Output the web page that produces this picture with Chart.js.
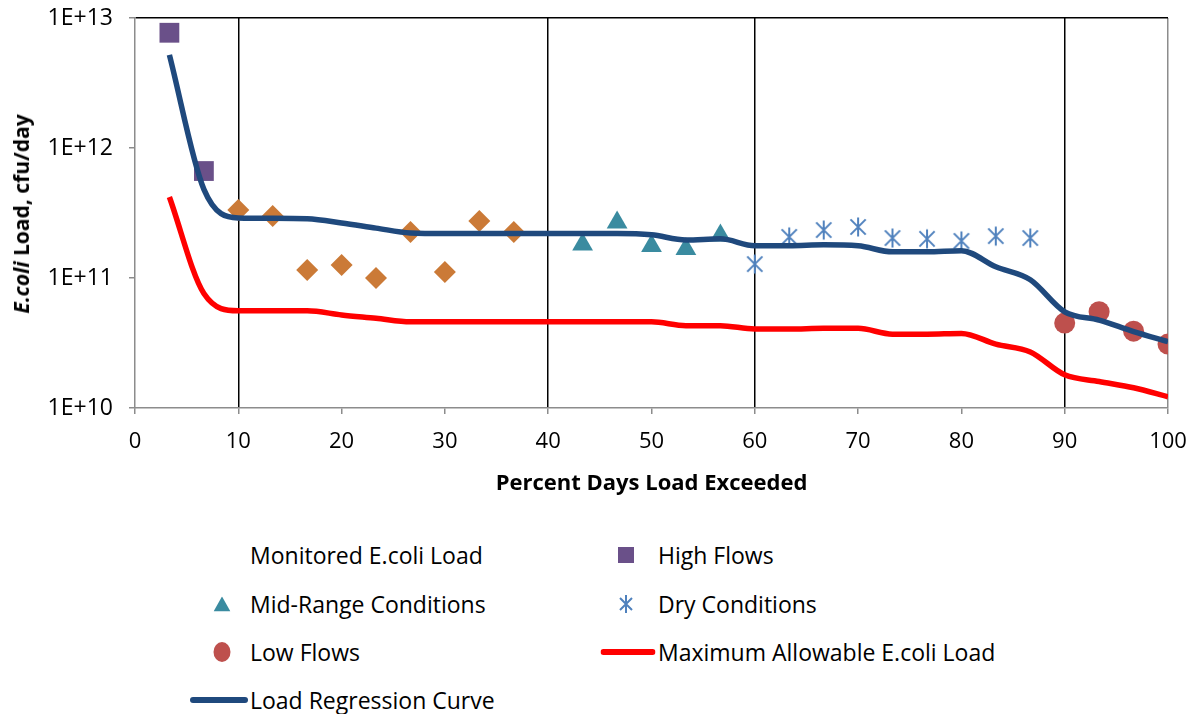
<!DOCTYPE html>
<html>
<head>
<meta charset="utf-8">
<script src="https://cdn.jsdelivr.net/npm/chart.js@4.4.0/dist/chart.umd.min.js"></script>
<style>
  body { margin: 0; background: #fff; }
  #wrap { position: relative; width: 1196px; height: 714px; font-family: "Open Sans", sans-serif; color: #000; }
  #chart { position: absolute; left: 0; top: 0; }
  #ytitle { position: absolute; left: 21px; top: 214px; transform: translate(-50%, -50%) rotate(-90deg);
            font-weight: bold; font-size: 21px; white-space: nowrap; }
  .lg { position: absolute; font-size: 23px; line-height: 28px; white-space: nowrap; transform: translateY(-50%); }
  .mk { position: absolute; transform: translate(-50%, -50%); line-height: 0; }
</style>
</head>
<body>
<div id="wrap">
  <canvas id="chart" width="1196" height="500"></canvas>
  <div id="ytitle"><i>E.coli</i> Load, cfu/day</div>
  <div id="legend"></div>
</div>
<script>
    "use strict";

    // flow duration intervals (percent days load exceeded)
    var curveX = [3.33, 6.67, 10, 13.33, 16.67, 20, 23.33, 26.67, 30, 33.33, 36.67, 40, 43.33, 46.67, 50,
                  53.33, 56.67, 60, 63.33, 66.67, 70, 73.33, 76.67, 80, 83.33, 86.67, 90, 93.33, 96.67, 100];
    var regressY = [5.2e12, 4.8e11, 2.9e11, 2.88e11, 2.85e11, 2.65e11, 2.42e11, 2.22e11, 2.2e11, 2.2e11,
                    2.2e11, 2.2e11, 2.2e11, 2.2e11, 2.15e11, 1.96e11, 2.0e11, 1.77e11, 1.77e11, 1.8e11,
                    1.77e11, 1.59e11, 1.59e11, 1.62e11, 1.22e11, 9.7e10, 5.5e10, 4.75e10, 3.87e10, 3.24e10];
    var maxAllowY = [4.2e11, 7.6e10, 5.6e10, 5.6e10, 5.6e10, 5.2e10, 4.9e10, 4.6e10, 4.6e10, 4.6e10,
                     4.6e10, 4.6e10, 4.6e10, 4.6e10, 4.6e10, 4.3e10, 4.3e10, 4.05e10, 4.05e10, 4.1e10,
                     4.1e10, 3.7e10, 3.7e10, 3.75e10, 3.1e10, 2.7e10, 1.8e10, 1.6e10, 1.43e10, 1.22e10];

    // monitored loads by flow regime
    var highX = [3.33, 6.67];
    var highY = [7.7e12, 6.65e11];
    var moistX = [10, 13.33, 16.67, 20, 23.33, 26.67, 30, 33.33, 36.67];
    var moistY = [3.33e11, 3.0e11, 1.15e11, 1.26e11, 1.0e11, 2.26e11, 1.11e11, 2.74e11, 2.26e11];
    var midX = [43.33, 46.67, 50, 53.33, 56.67];
    var midY = [1.81e11, 2.67e11, 1.76e11, 1.67e11, 2.12e11];
    var dryX = [60, 63.33, 66.67, 70, 73.33, 76.67, 80, 83.33, 86.67];
    var dryY = [1.28e11, 2.07e11, 2.34e11, 2.47e11, 2.03e11, 2.0e11, 1.93e11, 2.1e11, 2.03e11];
    var lowX = [90, 93.33, 96.67, 100];
    var lowY = [4.5e10, 5.5e10, 3.9e10, 3.1e10];

    var yTicks = [1e10, 1e11, 1e12, 1e13];
    var xTicks = [0, 10, 20, 30, 40, 50, 60, 70, 80, 90, 100];
    var zoneLines = [10, 40, 60, 90];

    function pts(xs, ys) {
        return xs.map(function (x, i) { return {x: x, y: ys[i]}; });
    }

    // Excel style asterisk: an X with a vertical bar
    function asterisk(size, color) {
        var c = document.createElement('canvas');
        c.width = size; c.height = size;
        var g = c.getContext('2d');
        var m = size / 2, r = size / 2 - 1.5;
        g.strokeStyle = color; g.lineWidth = 2;
        g.beginPath();
        g.moveTo(m, m - r); g.lineTo(m, m + r);
        g.moveTo(m - r * 0.8, m - r * 0.8); g.lineTo(m + r * 0.8, m + r * 0.8);
        g.moveTo(m + r * 0.8, m - r * 0.8); g.lineTo(m - r * 0.8, m + r * 0.8);
        g.stroke();
        return c;
    }

    // the plot box is fixed by layout padding alone
    function noOverflow(s) {
        s.paddingTop = 0; s.paddingBottom = 0; s.paddingLeft = 0; s.paddingRight = 0;
    }

    Chart.defaults.font.family = '"Open Sans", sans-serif';
    Chart.defaults.color = "#000";

    var ctx = document.getElementById('chart').getContext('2d');
    var chart = new Chart(ctx, {
        type: 'scatter',
        data: {
            datasets: [{
                label: 'Load Regression Curve',
                data: pts(curveX, regressY),
                showLine: true, borderColor: '#1F497D', borderWidth: 5.5,
                pointRadius: 0, cubicInterpolationMode: 'monotone', order: 0
            }, {
                label: 'Maximum Allowable E.coli Load',
                data: pts(curveX, maxAllowY),
                showLine: true, borderColor: '#FF0000', borderWidth: 5.5,
                pointRadius: 0, cubicInterpolationMode: 'monotone', order: 0
            }, {
                label: 'High Flows',
                data: pts(highX, highY),
                pointStyle: 'rect', pointRadius: 14, backgroundColor: '#6A5089', borderWidth: 0, order: 1
            }, {
                label: 'Monitored E.coli Load',
                data: pts(moistX, moistY),
                pointStyle: 'rectRot', pointRadius: 11, backgroundColor: '#CB7A37', borderWidth: 0, order: 1
            }, {
                label: 'Mid-Range Conditions',
                data: pts(midX, midY),
                pointStyle: 'triangle', pointRadius: 12, backgroundColor: '#3A8BA0', borderWidth: 0, order: 1
            }, {
                label: 'Dry Conditions',
                data: pts(dryX, dryY),
                pointStyle: asterisk(22, '#4F81BD'), order: 1
            }, {
                label: 'Low Flows',
                data: pts(lowX, lowY),
                pointStyle: 'circle', pointRadius: 10.5, backgroundColor: '#BE504D', borderWidth: 0, order: 1
            }]
        },
        options: {
            responsive: false,
            animation: false,
            layout: {autoPadding: false, padding: {top: 18, right: 28, left: 0, bottom: 0}},
            plugins: {legend: {display: false}, tooltip: {enabled: false}},
            scales: {
                x: {
                    type: 'linear', min: 0, max: 100,
                    afterBuildTicks: function (s) { s.ticks = xTicks.map(function (v) { return {value: v}; }); },
                    afterFit: function (s) { s.height = 92; noOverflow(s); },
                    ticks: {font: {size: 22}, padding: 15, maxRotation: 0},
                    grid: {
                        color: function (c) {
                            if (zoneLines.indexOf(c.tick.value) >= 0) return '#000';
                            if (c.tick.value === 100) return '#8C8C8C';
                            return 'rgba(0,0,0,0)';
                        },
                        lineWidth: 1.5, tickColor: '#8C8C8C', tickLength: 6
                    },
                    border: {color: '#8C8C8C', width: 1.5},
                    title: {display: true, text: 'Percent Days Load Exceeded',
                            font: {size: 22, weight: 'bold'}, padding: {top: 0, bottom: 3}}
                },
                y: {
                    type: 'logarithmic', min: 1e10, max: 1e13,
                    afterBuildTicks: function (s) { s.ticks = yTicks.map(function (v) { return {value: v}; }); },
                    afterFit: function (s) { s.width = 135; noOverflow(s); },
                    ticks: {
                        font: {size: 23}, padding: 16,
                        callback: function (v) { return '1E+' + Math.round(Math.log10(v)); }
                    },
                    grid: {
                        color: function (c) { return c.tick.value === 1e13 ? '#000' : 'rgba(0,0,0,0)'; },
                        lineWidth: 1.5, tickColor: '#8C8C8C', tickLength: 6
                    },
                    border: {color: '#8C8C8C', width: 1.5}
                }
            }
        }
    });

    // Legend, two columns like the source workbook
    var svgs = {
        none: '',
        rect: '<svg width="16" height="16"><rect width="16" height="16" fill="#6A5089"/></svg>',
        triangle: '<svg width="17" height="15"><polygon points="8.5,0 17,15 0,15" fill="#3A8BA0"/></svg>',
        star: '<svg width="16" height="20"><path d="M8 1V19M2 4L14 16M14 4L2 16" stroke="#4F81BD" stroke-width="2"/></svg>',
        circle: '<svg width="18" height="20"><ellipse cx="9" cy="10" rx="8.5" ry="10" fill="#BE504D"/></svg>',
        red: '<svg width="55" height="6"><rect width="55" height="6" rx="3" fill="#FF0000"/></svg>',
        blue: '<svg width="58" height="6"><rect width="58" height="6" rx="3" fill="#1F497D"/></svg>'
    };
    var legendItems = [
        ['Monitored E.coli Load', 'none', 222, 250, 555],
        ['High Flows', 'rect', 626, 658, 555],
        ['Mid-Range Conditions', 'triangle', 222, 250, 604],
        ['Dry Conditions', 'star', 626, 658, 604],
        ['Low Flows', 'circle', 222, 250, 652],
        ['Maximum Allowable E.coli Load', 'red', 628, 658, 652],
        ['Load Regression Curve', 'blue', 219, 250, 700]
    ];
    var html = '';
    legendItems.forEach(function (it) {
        if (it[1] !== 'none') {
            html += '<div class="mk" style="left:' + it[2] + 'px;top:' + it[4] + 'px">' + svgs[it[1]] + '</div>';
        }
        html += '<div class="lg" style="left:' + it[3] + 'px;top:' + it[4] + 'px">' + it[0] + '</div>';
    });
    document.getElementById('legend').innerHTML = html;
</script>
</body>
</html>
